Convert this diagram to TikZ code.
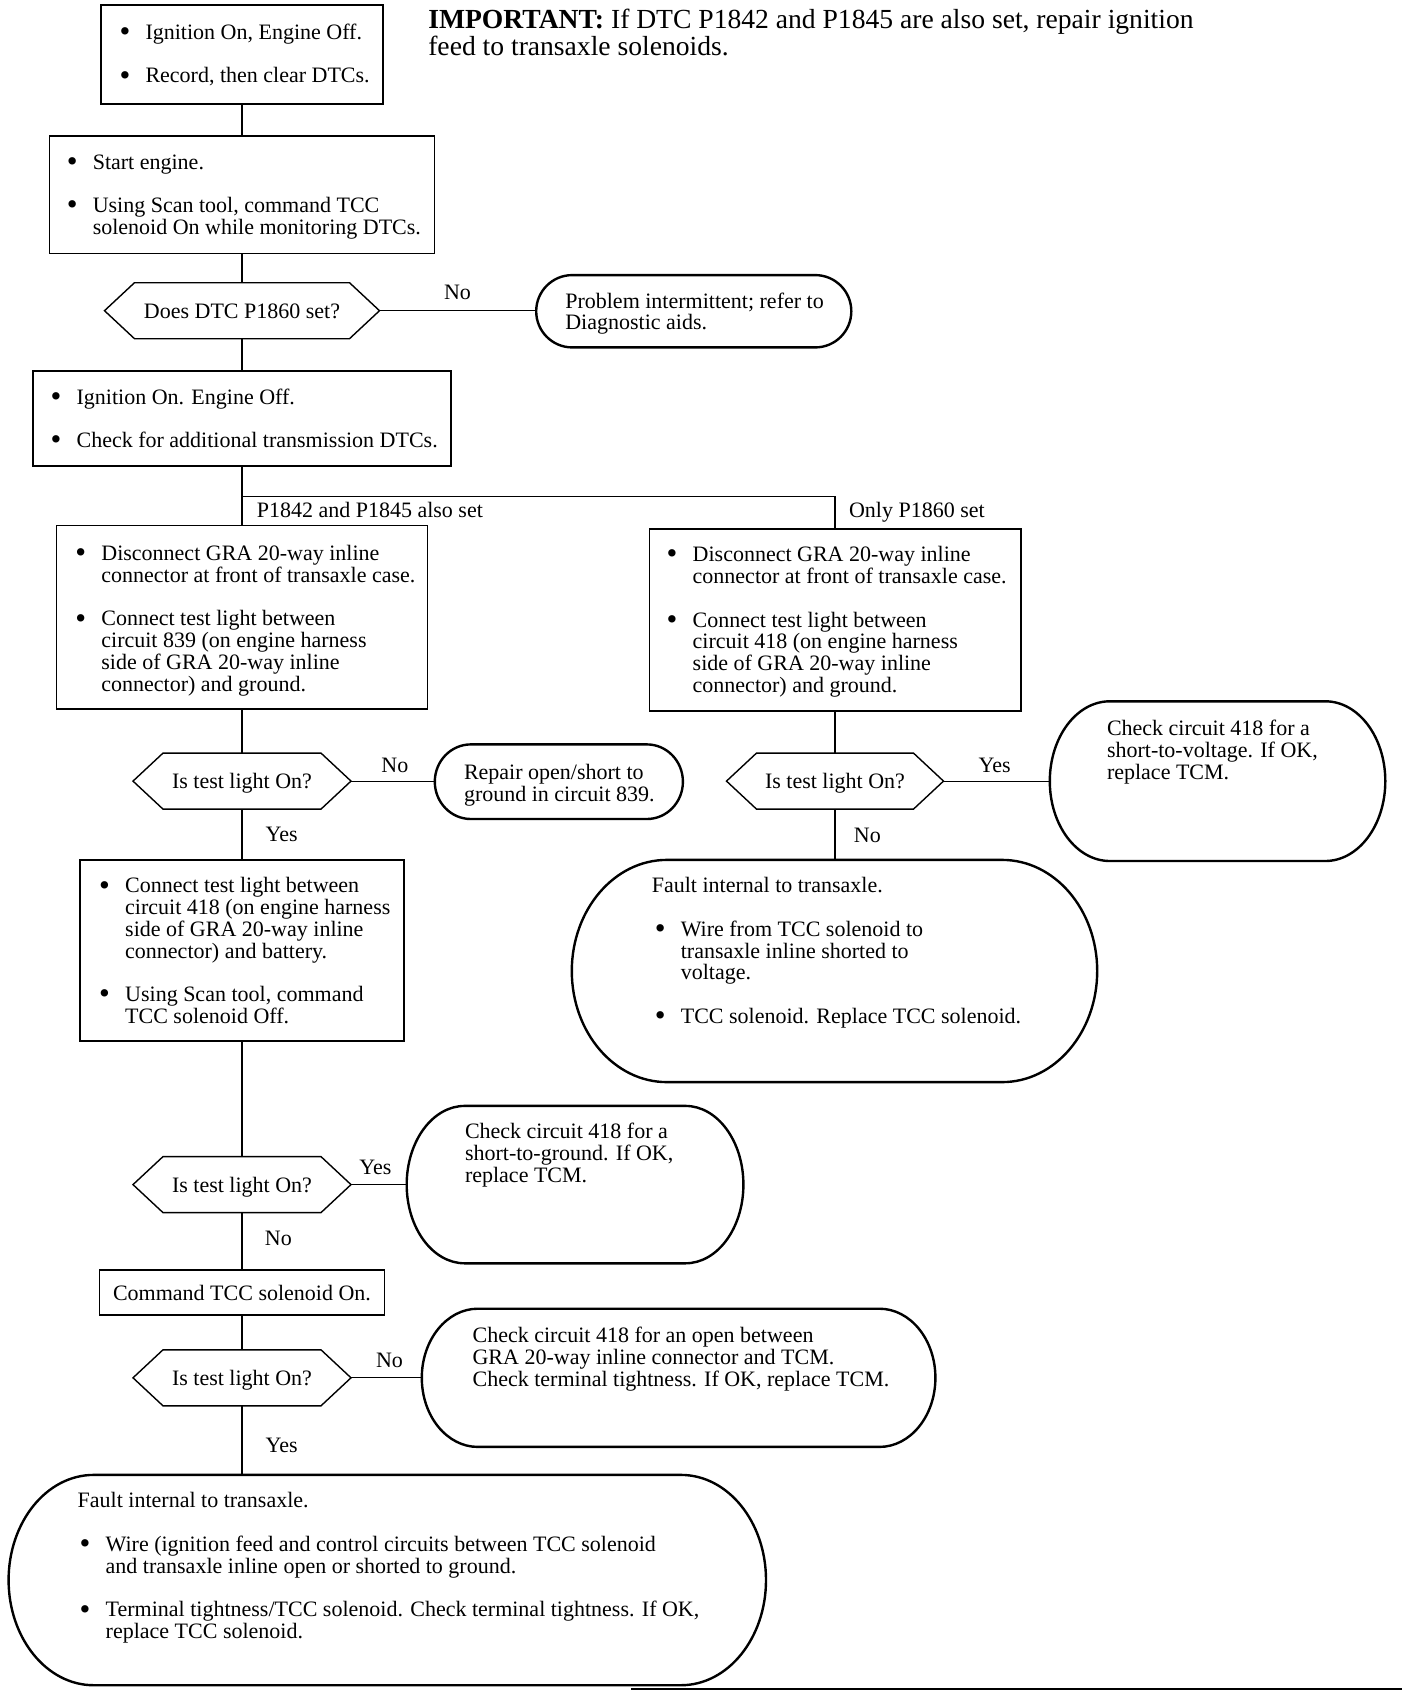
\documentclass[tikz,border=0pt]{standalone}
\usepackage{fontspec}
\setmainfont{Liberation Serif}
\newcommand\fsmain{\fontsize{22bp}{21.6bp}\selectfont}
\newcommand\fsimp{\fontsize{27.6bp}{27bp}\selectfont}
\newcommand\bu{\makebox[26bp][l]{\raisebox{-2.2bp}{\scalebox{1.4}{\textbullet}}}}
\newcommand\mkbox[6]{%
  \pgfmathsetmacro\myX{(#3+#5)/2}%
  \pgfmathsetmacro\myY{(#4+#6)/2}%
  \pgfmathsetmacro\myW{#5-#3}%
  \pgfmathsetmacro\myH{#6-#4}%
  \node[#1, minimum width=\myW bp, minimum height=\myH bp] (#2) at (\myX,\myY) {};}
\newcommand\hexdraw[1]{\draw[hexline] (#1.west) -- ([xshift=30bp]#1.north west) -- ([xshift=-30bp]#1.north east) -- (#1.east) -- ([xshift=-30bp]#1.south east) -- ([xshift=30bp]#1.south west) -- cycle;}
\newcommand\ovl[3]{\draw[ovline] ([xshift=#2bp]#1.north west) -- ([xshift=-#2bp]#1.north east)
  arc[start angle=90,end angle=0,x radius=#2bp,y radius=#3bp] -- ([yshift=#3bp]#1.south east)
  arc[start angle=0,end angle=-90,x radius=#2bp,y radius=#3bp] -- ([xshift=#2bp]#1.south west)
  arc[start angle=-90,end angle=-180,x radius=#2bp,y radius=#3bp] -- ([yshift=-#3bp]#1.north west)
  arc[start angle=180,end angle=90,x radius=#2bp,y radius=#3bp] -- cycle;}
\begin{document}
\begin{tikzpicture}[x=1bp,y=-1bp,
  every node/.style={inner sep=0pt,outer sep=0pt,font=\fsmain},
  boxn/.style={draw,line width=1.8bp,rectangle},
  plainn/.style={rectangle},
  hexn/.style={rectangle,text height=19bp,text depth=4bp},
  hexline/.style={line width=1.4bp,line join=miter},
  ovline/.style={line width=2.4bp},
  conn/.style={line width=1.2bp},
  txt/.style={anchor=base west,align=left},
  lbl/.style={anchor=center}]
\useasboundingbox[fill=white] (0,0) rectangle (1408,1692);

% --- shapes ---
\mkbox{boxn}{b1}{101.2}{5.4}{382.8}{103.6}
\mkbox{boxn}{b2}{49.45}{135.9}{434.55}{253.5}
\node[hexn,minimum width=275bp,minimum height=56bp] (h1) at (242,310.7) {Does DTC P1860 set?};
\hexdraw{h1}
\mkbox{plainn}{r1}{536.2}{275.1}{851.3}{347.4}
\ovl{r1}{36}{36.1}
\mkbox{boxn}{b3}{33.25}{371.1}{450.75}{466.1}
\coordinate (br) at (242,496.3);
\mkbox{boxn}{b4}{56.45}{525.4}{427.55}{708.8}
\mkbox{boxn}{b5}{649.4}{528.7}{1020.6}{711}
\node[hexn,minimum width=218bp,minimum height=56bp] (h2) at (242,781.1) {Is test light On?};
\hexdraw{h2}
\mkbox{plainn}{r2}{434.8}{744.4}{682.9}{819}
\ovl{r2}{36}{37.3}
\node[hexn,minimum width=217bp,minimum height=56bp] (h3) at (835,781.1) {Is test light On?};
\hexdraw{h3}
\mkbox{plainn}{r3}{1049.8}{701.3}{1385.3}{861}
\ovl{r3}{60}{79.85}
\mkbox{plainn}{r4}{571.8}{859.9}{1097.2}{1082.1}
\ovl{r4}{95}{111.1}
\mkbox{boxn}{b6}{80.15}{859.9}{403.85}{1041.1}
\node[hexn,minimum width=218bp,minimum height=56bp] (h4) at (242,1184.6) {Is test light On?};
\hexdraw{h4}
\mkbox{plainn}{r5}{406.7}{1105.9}{743.4}{1263.3}
\ovl{r5}{58}{78.7}
\node[boxn,minimum width=284.9bp,minimum height=45.3bp] (b7) at (242,1292.55) {Command TCC solenoid On.};
\node[hexn,minimum width=218bp,minimum height=56bp] (h5) at (242,1377.8) {Is test light On?};
\hexdraw{h5}
\mkbox{plainn}{r6}{421.8}{1308.7}{935.4}{1446.9}
\ovl{r6}{56}{69.1}
\mkbox{plainn}{r7}{8.6}{1474.9}{766}{1685.2}
\ovl{r7}{85}{105.15}

% --- texts ---
\node[txt,font=\fsimp] (imp) at (428.3,28) {\begin{tabular}[t]{@{}l@{}}\textbf{IMPORTANT:} If DTC P1842 and P1845 are also set, repair ignition\\feed to transaxle solenoids.\end{tabular}};
\node[txt] (t1) at (119.5,39.5) {\begin{tabular}[t]{@{}l@{}l@{}}\bu & Ignition On, Engine Off.\\ \\ \bu & Record, then clear DTCs.\end{tabular}};
\node[txt] (t2) at (66.8,169) {\begin{tabular}[t]{@{}l@{}l@{}}\bu & Start engine.\\ \\ \bu & Using Scan tool, command TCC\\ & solenoid On while monitoring DTCs.\end{tabular}};
\node[txt] (tr1) at (565.3,308) {\begin{tabular}[t]{@{}l@{}}Problem intermittent; refer to\\Diagnostic aids.\end{tabular}};
\node[txt] (t3) at (50.6,404.2) {\begin{tabular}[t]{@{}l@{}l@{}}\bu & Ignition On. Engine Off.\\ \\ \bu & Check for additional transmission DTCs.\end{tabular}};
\node[txt] (lab1) at (256.8,517.2) {P1842 and P1845 also set};
\node[txt] (lab2) at (849.1,517.2) {Only P1860 set};
\node[txt] (t4) at (75.4,560.6) {\begin{tabular}[t]{@{}l@{}l@{}}\bu & Disconnect GRA 20-way inline\\ & connector at front of transaxle case.\\ \\ \bu & Connect test light between\\ & circuit 839 (on engine harness\\ & side of GRA 20-way inline\\ & connector) and ground.\end{tabular}};
\node[txt] (t5) at (666.7,561.7) {\begin{tabular}[t]{@{}l@{}l@{}}\bu & Disconnect GRA 20-way inline\\ & connector at front of transaxle case.\\ \\ \bu & Connect test light between\\ & circuit 418 (on engine harness\\ & side of GRA 20-way inline\\ & connector) and ground.\end{tabular}};
\node[txt] (tr2) at (464,779.6) {\begin{tabular}[t]{@{}l@{}}Repair open/short to\\ground in circuit 839.\end{tabular}};
\node[txt] (tr3) at (1107,735.4) {\begin{tabular}[t]{@{}l@{}}Check circuit 418 for a\\short-to-voltage. If OK,\\replace TCM.\end{tabular}};
\node[txt] (t6) at (99.2,892.9) {\begin{tabular}[t]{@{}l@{}l@{}}\bu & Connect test light between\\ & circuit 418 (on engine harness\\ & side of GRA 20-way inline\\ & connector) and battery.\\ \\ \bu & Using Scan tool, command\\ & TCC solenoid Off.\end{tabular}};
\node[txt] (tr4) at (654.8,892.9) {\begin{tabular}[t]{@{}l@{}l@{}}\multicolumn{2}{@{}l@{}}{\hspace*{-3bp}Fault internal to transaxle.}\\ \\ \bu & Wire from TCC solenoid to\\ & transaxle inline shorted to\\ & voltage.\\ \\ \bu & TCC solenoid. Replace TCC solenoid.\end{tabular}};
\node[txt] (tr5) at (465,1138.9) {\begin{tabular}[t]{@{}l@{}}Check circuit 418 for a\\short-to-ground. If OK,\\replace TCM.\end{tabular}};
\node[txt] (tr6) at (472.6,1342.8) {\begin{tabular}[t]{@{}l@{}}Check circuit 418 for an open between\\GRA 20-way inline connector and TCM.\\Check terminal tightness. If OK, replace TCM.\end{tabular}};
\node[txt] (tr7) at (79.7,1507.9) {\begin{tabular}[t]{@{}l@{}l@{}}\multicolumn{2}{@{}l@{}}{\hspace*{-2bp}Fault internal to transaxle.}\\ \\ \bu & Wire (ignition feed and control circuits between TCC solenoid\\ & and transaxle inline open or shorted to ground.\\ \\ \bu & Terminal tightness/TCC solenoid. Check terminal tightness. If OK,\\ & replace TCC solenoid.\end{tabular}};

% --- branch labels ---
\node[lbl] (no1) at (457.5,292.5) {No};
\node[lbl] (no2) at (394.9,765) {No};
\node[lbl] (yes2) at (281.6,834) {Yes};
\node[lbl] (yes3) at (994.7,765) {Yes};
\node[lbl] (no3) at (867.4,835) {No};
\node[lbl] (yes4) at (375.5,1167.4) {Yes};
\node[lbl] (no4) at (278.4,1238.6) {No};
\node[lbl] (no5) at (389.5,1360.5) {No};
\node[lbl] (yes5) at (281.6,1445.7) {Yes};

% --- connectors ---
\draw[conn] (b1.south) -- (b2.north);
\draw[conn] (b2.south) -- (h1.north);
\draw[conn] (h1.east) -- (h1.east -| r1.west);
\draw[conn] (h1.south) -- (b3.north);
\draw[conn] (b3.south) -- (br) -- (b4.north);
\draw[conn] (br) -| (b5.north);
\draw[conn] (b4.south) -- (h2.north);
\draw[conn] (h2.east) -- (h2.east -| r2.west);
\draw[conn] (h2.south) -- (b6.north);
\draw[conn] (b5.south) -- (h3.north);
\draw[conn] (h3.east) -- (h3.east -| r3.west);
\draw[conn] (h3.south) -- (h3.south |- r4.north);
\draw[conn] (b6.south) -- (h4.north);
\draw[conn] (h4.east) -- (h4.east -| r5.west);
\draw[conn] (h4.south) -- (b7.north);
\draw[conn] (b7.south) -- (h5.north);
\draw[conn] (h5.east) -- (h5.east -| r6.west);
\draw[conn] (h5.south) -- (h5.south |- r7.north);

% --- page rule at bottom ---
\coordinate (ruleA) at (631,1689);
\coordinate (ruleB) at (1402,1689);
\draw[line width=1.2bp] (ruleA) -- (ruleB);
\end{tikzpicture}
\end{document}
